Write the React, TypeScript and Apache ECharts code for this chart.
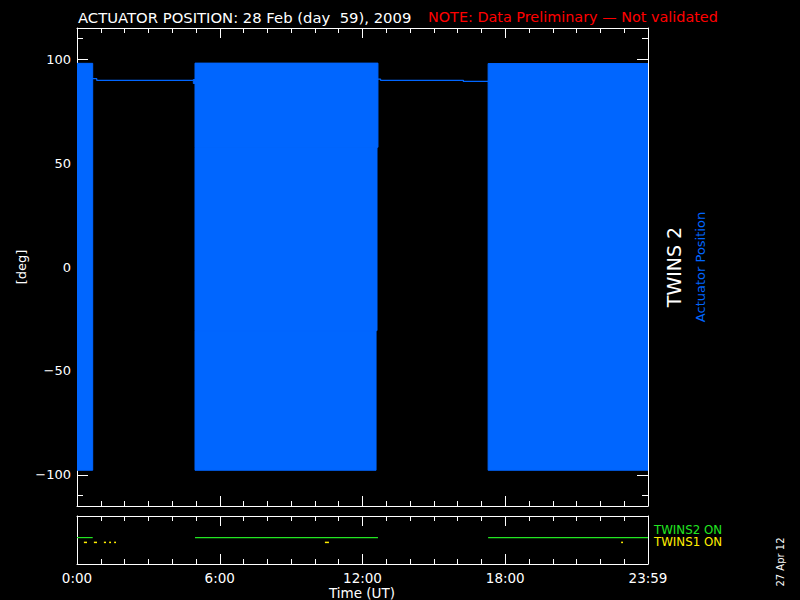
import React, { useEffect, useRef } from "react";
import * as echarts from "echarts";

// ---- data ----
const yMajorTicks = [-100, -50, 0, 50, 100];
const yMinorTicks = [-110, -90, -80, -70, -60, -40, -30, -20, -10, 10, 20, 30, 40, 60, 70, 80, 90, 110];
const xTickLabels = ["0:00", "6:00", "12:00", "18:00", "23:59"];

// scanning intervals: [startHour, endHour, minDeg, maxDeg]
const scanBlocks = [
  [0.0, 0.66, -97.8, 98.0],
  [4.89, 4.96, 88.3, 90.2],
  [4.96, 12.65, 57.6, 98.1],
  [4.96, 12.61, -30.6, 57.6],
  [4.96, 12.57, -97.8, -30.6],
  [17.28, 24.0, -97.8, 97.9],
];

// parked actuator position between scans
const parkHours1 = [0.63, 0.83, 0.83, 4.89];
const parkDeg1 = [90.6, 90.6, 89.8, 89.8];
const parkHours2 = [12.6, 12.76, 12.76, 16.24, 16.24, 17.28];
const parkDeg2 = [90.4, 90.4, 89.8, 89.8, 89.3, 89.3];

// instrument on-intervals (hours)
const twins2On = [
  [0, 0.66],
  [4.96, 12.65],
  [17.28, 24],
];
const twins1On = [
  [0.29, 0.42],
  [0.71, 0.84],
  [1.13, 1.22],
  [1.35, 1.43],
  [1.56, 1.64],
  [10.42, 10.59],
  [22.87, 22.95],
];
const twins2Level = 1.1;
const twins1Level = 0.9;

const BLUE = "#0066ff";
const GREEN = "#22e622";
const YELLOW = "#ffee00";
const WHITE = "#ffffff";
const FONT = "DejaVu Sans";

export default function App() {
  const ref = useRef<HTMLDivElement>(null);

  useEffect(() => {
    if (!ref.current) return;
    const chart = echarts.init(ref.current, null, { renderer: "svg" });

    const xBase = (gridIndex: number, position: string, labels: boolean) => ({
      type: "value",
      gridIndex,
      position,
      min: 0,
      max: 24,
      interval: 6,
      axisLine: { show: true, onZero: false, lineStyle: { color: WHITE, width: 1 } },
      axisTick: { show: true, inside: true, length: 10, lineStyle: { color: WHITE, width: 1 } },
      minorTick: { show: true, splitNumber: 6, length: 5, lineStyle: { color: WHITE, width: 1 } },
      splitLine: { show: false },
      axisLabel: labels
        ? {
            show: true,
            color: WHITE,
            fontFamily: FONT,
            fontSize: 13.5,
            margin: 7,
            formatter: (v: number) => xTickLabels[Math.round(v / 6)] ?? "",
          }
        : { show: false },
    });

    const yMain = (position: string, labels: boolean) => ({
      type: "value",
      gridIndex: 0,
      position,
      min: -115,
      max: 115,
      axisLine: { show: true, onZero: false, lineStyle: { color: WHITE, width: 1 } },
      axisTick: { show: true, inside: true, length: 11, customValues: yMajorTicks, lineStyle: { color: WHITE, width: 1 } },
      splitLine: { show: false },
      axisLabel: labels
        ? {
            show: true,
            customValues: yMajorTicks,
            color: WHITE,
            fontFamily: FONT,
            fontSize: 13,
            margin: 6,
            formatter: (v: number) => (v < 0 ? "\u2212" + Math.abs(v) : String(v)),
          }
        : { show: false },
    });
    const yMinor = (position: string) => ({
      type: "value",
      gridIndex: 0,
      position,
      min: -115,
      max: 115,
      axisLine: { show: false, onZero: false },
      axisTick: { show: true, inside: true, length: 6, customValues: yMinorTicks, lineStyle: { color: WHITE, width: 1 } },
      splitLine: { show: false },
      axisLabel: { show: false },
    });
    const yPanel = (position: string) => ({
      type: "value",
      gridIndex: 1,
      position,
      min: 0,
      max: 2,
      axisLine: { show: true, onZero: false, lineStyle: { color: WHITE, width: 1 } },
      axisTick: { show: false },
      splitLine: { show: false },
      axisLabel: { show: false },
    });

    const text = (t: string, x: number, y: number, size: number, fill: string, extra: any = {}) => ({
      type: "text",
      x,
      y,
      ...extra,
      style: {
        text: t,
        fill,
        fontFamily: FONT,
        fontSize: size,
        textAlign: extra.align ?? "left",
        textVerticalAlign: "middle",
      },
    });

    const option: any = {
      animation: false,
      backgroundColor: "#000000",
      grid: [
        { left: 77, top: 28, width: 571, height: 478 },
        { left: 77, top: 516, width: 571, height: 48 },
      ],
      xAxis: [xBase(0, "bottom", false), xBase(0, "top", false), xBase(1, "bottom", true), xBase(1, "top", false)],
      yAxis: [yMain("left", true), yMinor("left"), yMain("right", false), yMinor("right"), yPanel("left"), yPanel("right")],
      series: [
        {
          type: "custom",
          xAxisIndex: 0,
          yAxisIndex: 0,
          clip: true,
          encode: { x: [0, 1], y: [2, 3] },
          data: scanBlocks,
          renderItem: (_p: any, api: any) => {
            const a = api.coord([api.value(0), api.value(3)]);
            const b = api.coord([api.value(1), api.value(2)]);
            return {
              type: "rect",
              shape: { x: a[0], y: a[1], width: b[0] - a[0], height: b[1] - a[1] },
              style: { fill: BLUE, stroke: BLUE, lineWidth: 1 },
            };
          },
        },
        {
          type: "line",
          xAxisIndex: 0,
          yAxisIndex: 0,
          symbol: "none",
          lineStyle: { color: BLUE, width: 1.3 },
          data: parkHours1.map((h, i) => [h, parkDeg1[i]]),
        },
        {
          type: "line",
          xAxisIndex: 0,
          yAxisIndex: 0,
          symbol: "none",
          lineStyle: { color: BLUE, width: 1.3 },
          data: parkHours2.map((h, i) => [h, parkDeg2[i]]),
        },
        {
          type: "custom",
          xAxisIndex: 2,
          yAxisIndex: 4,
          encode: { x: [0, 1], y: 2 },
          data: twins2On.map((s) => [s[0], s[1], twins2Level]),
          renderItem: (_p: any, api: any) => {
            const a = api.coord([api.value(0), api.value(2)]);
            const b = api.coord([api.value(1), api.value(2)]);
            return {
              type: "line",
              shape: { x1: a[0], y1: a[1], x2: b[0], y2: b[1] },
              style: { stroke: GREEN, lineWidth: 1.2 },
            };
          },
        },
        {
          type: "custom",
          xAxisIndex: 2,
          yAxisIndex: 4,
          encode: { x: [0, 1], y: 2 },
          data: twins1On.map((s) => [s[0], s[1], twins1Level]),
          renderItem: (_p: any, api: any) => {
            const a = api.coord([api.value(0), api.value(2)]);
            const b = api.coord([api.value(1), api.value(2)]);
            return {
              type: "line",
              shape: { x1: a[0], y1: a[1], x2: b[0], y2: b[1] },
              style: { stroke: YELLOW, lineWidth: 1.5 },
            };
          },
        },
      ],
      graphic: [
        text("ACTUATOR POSITION: 28 Feb (day  59), 2009", 78, 17, 14.8, WHITE),
        text("NOTE: Data Preliminary \u2014 Not validated", 428, 17, 14.4, "#ff0000"),
        text("[deg]", 21, 267, 13, WHITE, { rotation: Math.PI / 2, align: "center" }),
        text("TWINS 2", 674, 267, 19, WHITE, { rotation: Math.PI / 2, align: "center" }),
        text("Actuator Position", 700, 267, 13, BLUE, { rotation: Math.PI / 2, align: "center" }),
        text("TWINS2 ON", 654, 529.5, 11.8, GREEN),
        text("TWINS1 ON", 654, 542, 11.8, YELLOW),
        text("27 Apr 12", 780, 562, 10, WHITE, { rotation: Math.PI / 2, align: "center" }),
        text("Time (UT)", 362, 593, 13.5, WHITE, { align: "center" }),
      ],
    };

    chart.setOption(option);
    return () => chart.dispose();
  }, []);

  return (
    <div
      ref={ref}
      style={{ position: "fixed", left: 0, top: 0, width: 800, height: 600, background: "#000" }}
    />
  );
}
